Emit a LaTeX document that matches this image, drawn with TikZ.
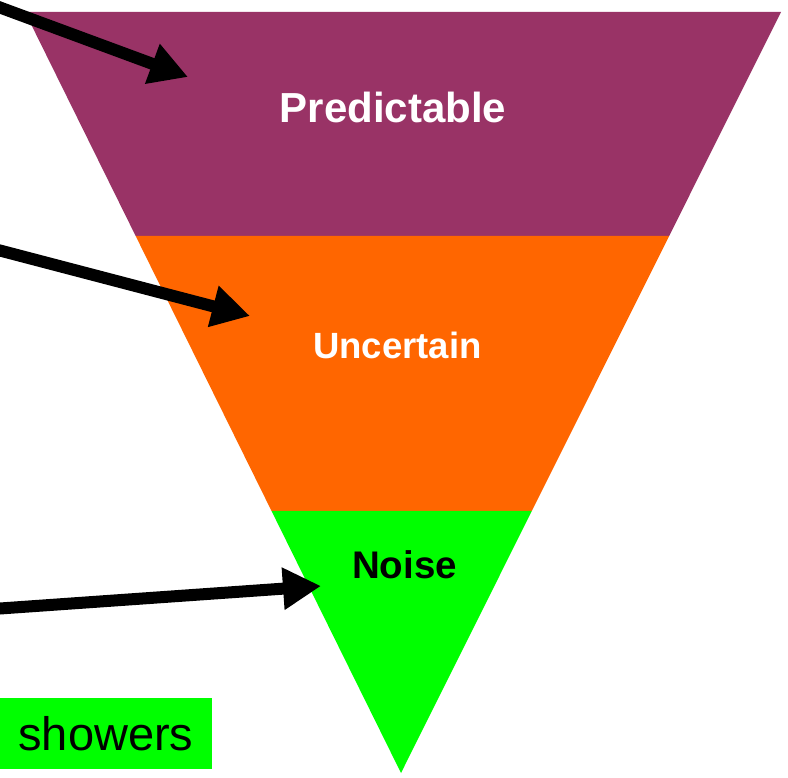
\documentclass[tikz,border=0pt]{standalone}
\usepackage{fontspec}
\setmainfont{Liberation Sans}
\usetikzlibrary{arrows.meta}
\usetikzlibrary{calc}

\definecolor{bandpurple}{HTML}{993366}
\definecolor{bandorange}{HTML}{FF6600}
\definecolor{bandgreen}{HTML}{00FF00}

\begin{document}
\begin{tikzpicture}[x=1pt, y=-1pt,
	pointer/.style={line width=12pt, -{Triangle[length=38pt,width=40pt]}},
	bandtext/.style={font=\bfseries\fontsize{#1}{#1}\selectfont, anchor=base}]
					\useasboundingbox (0,0) rectangle (788,778);

					% Corners of the funnel and the two cuts between the bands
					\coordinate (TL) at (25,12);
					\coordinate (TR) at (781,12);
					\coordinate (tip) at (401,773);
					\coordinate (L1) at ($(TL)!0.2943!(tip)$);
					\coordinate (R1) at ($(TR)!0.2943!(tip)$);
					\coordinate (L2) at ($(TL)!0.6557!(tip)$);
					\coordinate (R2) at ($(TR)!0.6557!(tip)$);

					\fill[bandpurple] (TL) -- (TR) -- (R1) -- (L1) -- cycle;
					\fill[bandorange] (L1) -- (R1) -- (R2) -- (L2) -- cycle;
					\fill[bandgreen] (L2) -- (R2) -- (tip) -- cycle;

					\node[bandtext=42, text=white] (pred) at (393,123) {Predictable};
					\node[bandtext=36.5, text=white] (unc) at (397.5,359) {Uncertain};
					\node[bandtext=38.5, text=black] (noise) at (404.5,578) {Noise};

					\node[fill=bandgreen, minimum width=212pt, minimum height=71pt, inner sep=0pt,
						font=\fontsize{47}{47}\selectfont] (showers) at (106,733.5) {showers};

					% Free ends of the arrows, outside on the left
					\coordinate (s1) at (-10,3.8);
					\coordinate (e1) at (188,77);
					\coordinate (s2) at (-10,247.9);
					\coordinate (e2) at (250,316);
					\coordinate (s3) at (-10,609.2);
					\coordinate (e3) at (321,586);

					\draw[pointer] (s1) -- (e1);
					\draw[pointer] (s2) -- (e2);
					\draw[pointer] (s3) -- (e3);
				\end{tikzpicture}
\end{document}
